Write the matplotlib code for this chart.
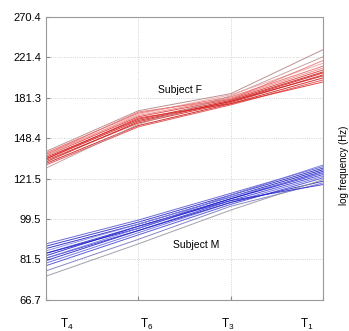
import numpy as np
import matplotlib.pyplot as plt
from matplotlib.transforms import ScaledTranslation

plt.rcParams['font.family'] = ['Liberation Sans', 'DejaVu Sans']
plt.rcParams['mathtext.fontset'] = 'custom'
plt.rcParams['mathtext.rm'] = 'Liberation Sans'
plt.rcParams['mathtext.it'] = 'Liberation Sans'

positions = ['T$_4$', 'T$_6$', 'T$_3$', 'T$_1$']
yticks = [66.7, 81.5, 99.5, 121.5, 148.4, 181.3, 221.4, 270.4]

# subject F, one row per utterance (Hz)
female = [
    [134, 162, 178, 205],
    [136, 165, 180, 208],
    [131, 158, 176, 200],
    [138, 168, 182, 212],
    [133, 160, 177, 203],
    [135, 163, 179, 206],
    [130, 157, 175, 198],
    [137, 166, 181, 210],
    [132, 161, 178, 202],
    [139, 170, 185, 230],
    [128, 159, 183, 222],
    [136, 167, 184, 215],
    [134, 164, 176, 196],
    [137, 169, 180, 218],
]
female_cols = ['#d01818', '#e03030', '#c81010', '#e86060', '#d42020', '#cc1414',
               '#e04040', '#f08080', '#d01c1c', '#b08080', '#c09090', '#f0a0a0',
               '#e02828', '#e87070']

# subject M
male = [
    [84, 95, 110, 125],
    [82, 94, 109, 124],
    [86, 97, 111, 127],
    [80, 93, 108, 123],
    [87, 98, 112, 128],
    [83, 96, 110, 126],
    [79, 92, 107, 122],
    [85, 97, 111, 125],
    [81, 94, 108, 120],
    [88, 99, 113, 129],
    [77, 90, 106, 119],
    [75, 88, 104, 121],
    [84, 96, 109, 118],
    [82, 95, 112, 130],
]
male_cols = ['#1818c8', '#3030d8', '#1010b8', '#6060e0', '#2020c0', '#1414cc',
             '#4040d8', '#8080e8', '#1c1cc0', '#5050d0', '#7070c0', '#9090a0',
             '#2828d0', '#7070e0']

fig = plt.figure(figsize=(3.49, 3.31), dpi=100)
ax = fig.add_axes([0.132, 0.094, 0.794, 0.855])
x = np.arange(len(positions))

for row, c in zip(female, female_cols):
    ax.plot(x, row, color=c, lw=0.7, alpha=0.85)
for row, c in zip(male, male_cols):
    ax.plot(x, row, color=c, lw=0.7, alpha=0.85)

ax.set_yscale('log')
ax.set_ylim(66.7, 270.4)
ax.set_xlim(0, 3)
ax.set_yticks(yticks)
ax.set_yticklabels([str(v) for v in yticks])
ax.minorticks_off()
ax.set_xticks(x)
ax.set_xticklabels(positions)
ax.tick_params(direction='in', length=3, labelsize=8, color='#888888')
ax.tick_params(axis='x', pad=12, labelsize=8.5)
ax.grid(True, linestyle=':', color='#c4c4c4', lw=0.6)
for s in ax.spines.values():
    s.set_color('#999999')
    s.set_linewidth(0.8)

# the x labels sit evenly between the ticks in the original, not on them
for lbl, dx in zip(ax.get_xticklabels(), [21, 8, -3, -16]):
    lbl.set_transform(lbl.get_transform() + ScaledTranslation(dx / 100, 0, fig.dpi_scale_trans))

ax.text(1.45, 188, 'Subject F', fontsize=7.5, ha='center', va='center')
ax.text(1.62, 87.4, 'Subject M', fontsize=7.5, ha='center', va='center')
fig.text(0.985, 0.5, 'log frequency (Hz)', rotation=90, fontsize=7,
         ha='center', va='center')

fig.savefig('out.png', dpi=100)
